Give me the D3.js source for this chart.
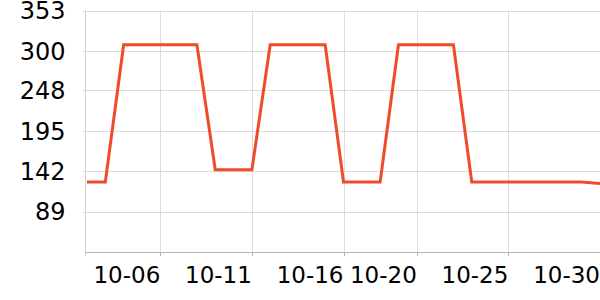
<!DOCTYPE html>
<html>
<head>
<meta charset="utf-8">
<script src="https://cdn.jsdelivr.net/npm/d3@7"></script>
<style>
  html, body { margin: 0; padding: 0; background: #fff; overflow: hidden; }
  svg { display: block; }
  text { font-family: "DejaVu Sans", sans-serif; fill: #000; }
</style>
</head>
<body>
<svg width="600" height="300"></svg>
<script>
// daily readings, Oct 2 - Oct 30
var dates = ["10-02", "10-03", "10-04", "10-05", "10-06", "10-07", "10-08", "10-09", "10-10",
	"10-11", "10-12", "10-13", "10-14", "10-15", "10-16", "10-17", "10-18", "10-19", "10-20",
	"10-21", "10-22", "10-23", "10-24", "10-25", "10-26", "10-27", "10-28", "10-29", "10-30"];
var values = [128, 128, 308, 308, 308, 308, 308, 144, 144,
	144, 308, 308, 308, 308, 128, 128, 128, 308, 308,
	308, 308, 128, 128, 128, 128, 128, 128, 128, 126];
var xTicks = ["10-06", "10-11", "10-16", "10-20", "10-25", "10-30"];
var yTicks = [89, 142, 195, 248, 300, 353];
var yDomain = [36, 353];

var parse = (s) => new Date(2024, +s.slice(0, 2) - 1, +s.slice(3));
var data = dates.map((d, i) => ({ date: parse(d), value: values[i] }));

var svg = d3.select("svg"),
	plotLeft = 85.5,
	plotRight = 600,
	plotTop = 10.5,
	plotBottom = 252;

var x = d3.scaleTime()
	.domain([parse(dates[0]), parse(dates[dates.length - 1])])
	.range([plotLeft + 1.5, plotRight]);
var y = d3.scaleLinear().domain(yDomain).range([plotBottom, plotTop]);

var snap = (v) => Math.round(v) + 0.5;

// horizontal grid
svg.append("g")
	.selectAll("line")
	.data(yTicks)
	.enter()
	.append("line")
	.attr("x1", plotLeft - 2.5)
	.attr("x2", 600)
	.attr("y1", (d) => snap(y(d)))
	.attr("y2", (d) => snap(y(d)))
	.attr("stroke", "#dcdcdc");

// vertical grid
svg.append("g")
	.selectAll("line")
	.data(xTicks)
	.enter()
	.append("line")
	.attr("x1", (d) => snap(x(parse(d))))
	.attr("x2", (d) => snap(x(parse(d))))
	.attr("y1", plotTop)
	.attr("y2", plotBottom)
	.attr("stroke", "#dcdcdc");

// y axis line
svg.append("line")
	.attr("x1", plotLeft)
	.attr("x2", plotLeft)
	.attr("y1", plotTop)
	.attr("y2", plotBottom + 4)
	.attr("stroke", "#d0d0d0");

// x axis line + ticks
svg.append("line")
	.attr("x1", plotLeft)
	.attr("x2", 600)
	.attr("y1", plotBottom + 0.5)
	.attr("y2", plotBottom + 0.5)
	.attr("stroke", "#b4b4b4");

svg.append("g")
	.selectAll("line")
	.data(xTicks)
	.enter()
	.append("line")
	.attr("x1", (d) => snap(x(parse(d))))
	.attr("x2", (d) => snap(x(parse(d))))
	.attr("y1", plotBottom)
	.attr("y2", plotBottom + 4)
	.attr("stroke", "#b4b4b4");

// y labels
svg.append("g")
	.selectAll("text")
	.data(yTicks)
	.enter()
	.append("text")
	.attr("x", plotLeft - 20)
	.attr("y", (d) => y(d))
	.attr("dy", "0.36em")
	.attr("text-anchor", "end")
	.attr("font-size", 24)
	.text((d) => d);

// x labels
svg.append("g")
	.selectAll("text")
	.data(xTicks)
	.enter()
	.append("text")
	.attr("x", (d) => x(parse(d)))
	.attr("y", plotBottom + 31)
	.attr("text-anchor", "end")
	.attr("font-size", 23)
	.text((d) => d);

var line = d3.line()
	.x((d) => x(d.date))
	.y((d) => y(d.value));

svg.append("path")
	.datum(data)
	.attr("d", line)
	.attr("fill", "none")
	.attr("stroke", "#ee4b2b")
	.attr("stroke-width", 3);
</script>
</body>
</html>
